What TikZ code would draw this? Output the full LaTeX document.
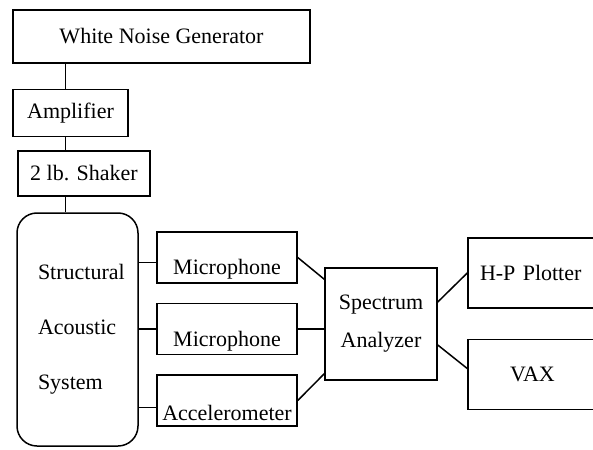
\documentclass[tikz,border=0pt]{standalone}
\usepackage{fontspec}
\setmainfont{Liberation Serif}
\usepackage{tikz}
\usetikzlibrary{positioning}
\newcommand{\lowered}[1]{\raisebox{-12pt}[\height][\depth]{#1}}
\tikzset{
  unit/.style={
    rectangle,
    draw=black,
    line width=1.5pt,
    inner sep=0pt,
    align=center,
    font=\fontsize{22}{26}\selectfont
  },
  sensor/.style={
    unit,
    minimum width=140pt,
    minimum height=51pt
  },
  sysbox/.style={
    rectangle,
    rounded corners=20pt,
    draw=black,
    line width=1.5pt,
    minimum width=121pt,
    minimum height=233pt,
    inner xsep=0pt,
    text width=79pt,
    align=left,
    font=\fontsize{22}{55}\selectfont
  },
  outbox/.style={
    unit,
    minimum width=160pt,
    minimum height=70pt,
    inner xsep=12pt,
    text width=136pt,
    align=left
  },
  link/.style={line width=1.5pt, draw=black}
}
\begin{document}
\begin{tikzpicture}[x=1pt,y=-1pt]
\useasboundingbox (0,0) rectangle (593,449);

\node[unit, minimum width=297pt, minimum height=53pt] (wng) at (161.5,36.5) {White Noise Generator};

\node[unit, minimum width=115pt, minimum height=47pt,
  below=25pt of wng.south west, anchor=north west] (amp) {Amplifier};

\node[unit, minimum width=132pt, minimum height=45pt,
  below=13pt of amp.south west, anchor=north west, xshift=5pt] (shaker) {2 lb. Shaker};

\node[sysbox] (sas) at (77.5,329.5) {Structural\\Acoustic\\System};

\node[sensor] (mic1) at (227,257.5) {\lowered{Microphone}};
\node[sensor, below=19pt of mic1] (mic2) {\lowered{Microphone}};
\node[sensor, below=19pt of mic2] (acc) {\lowered{Accelerometer}};

\node[unit, minimum width=112pt, minimum height=112pt,
  font=\fontsize{22}{38}\selectfont] (sa) at (381,324) {Spectrum\\Analyzer};

\node[outbox] (hp) at (548,273) {H-P Plotter};
\node[outbox, below=30pt of hp] (vax) {\hspace*{30pt}VAX};

% signal chain
\draw[link] ([xshift=-5pt]amp.north) -- ([xshift=-5pt]amp.north |- wng.south);
\draw[link] ([xshift=-5pt]amp.south) -- ([xshift=-5pt]amp.south |- shaker.north);
\draw[link] ([xshift=-5pt]amp.south |- shaker.south) -- ([xshift=-5pt]amp.south |- sas.north);

% sensors
\draw[link] ([yshift=-5pt]mic1.west) -- ([yshift=-5pt]mic1.west -| sas.east);
\draw[link] (mic2.west) -- (mic2.west -| sas.east);
\draw[link] ([yshift=-7pt]acc.west) -- ([yshift=-7pt]acc.west -| sas.east);

\draw[link] (mic1.east) -- ([yshift=-12pt]sa.north west);
\draw[link] (mic2.east) -- (mic2.east -| sa.west);
\draw[link] (acc.east) -- ([yshift=7pt]sa.south west);

% outputs
\draw[link] ([yshift=22pt]sa.east) -- (hp.west);
\draw[link] ([yshift=-21pt]sa.east) -- ([yshift=6pt]vax.west);

\end{tikzpicture}
\end{document}
